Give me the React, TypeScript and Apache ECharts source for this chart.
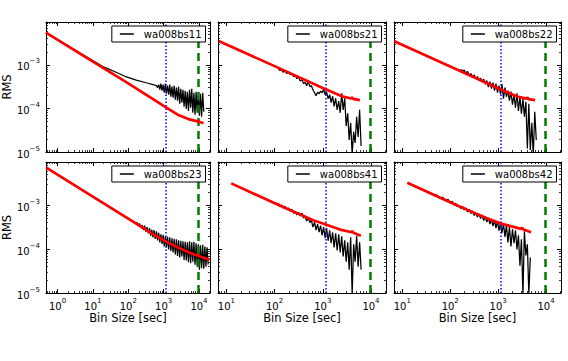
import React, { useEffect, useRef } from 'react';
import * as echarts from 'echarts';

const FONT = 'DejaVu Sans';

const panelLabels = ['wa008bs11', 'wa008bs21', 'wa008bs22', 'wa008bs23', 'wa008bs41', 'wa008bs42'];

const blueLineBin = 1150;
const greenLineBin = 9600;

const binRangeFull: [number, number] = [0.47, 20500];
const binRangeShort: [number, number] = [6.7, 20500];
const rmsRange: [number, number] = [1e-5, 0.0097];

const xAxisTitle = 'Bin Size [sec]';
const yAxisTitle = 'RMS';

// ---- wa008bs11 ----
const rmsBs11: [number, number][] = [
  [0.47, 5.5e-3], [2.6, 2.4e-3], [18, 9.4e-4], [47, 6.7e-4], [89, 5.3e-4], [168, 4.5e-4], [320, 3.9e-4], [500, 3.55e-4],
  [625, 3.34e-4], [675, 3.01e-4], [725, 3.53e-4], [780, 2.7e-4], [840, 3.72e-4], [900, 2.56e-4], [970, 3.53e-4], [1040, 2.3e-4],
  [1120, 3.72e-4], [1200, 2.18e-4], [1290, 3.34e-4], [1390, 2.07e-4], [1490, 3.53e-4], [1600, 1.86e-4], [1720, 3.17e-4], [1850, 1.77e-4],
  [1990, 3.34e-4], [2140, 1.59e-4], [2300, 3.01e-4], [2470, 1.51e-4], [2650, 3.17e-4], [2850, 1.29e-4], [3060, 2.85e-4], [3290, 1.36e-4],
  [3530, 2.7e-4], [3790, 1.1e-4], [4070, 2.56e-4], [4370, 9.8e-5], [4690, 2.43e-4], [5040, 8.8e-5], [5410, 2.7e-4], [5810, 1.04e-4],
  [6240, 2.85e-4], [6700, 7.95e-5], [7200, 2.3e-4], [7730, 7.15e-5], [8300, 2.43e-4], [8910, 7.95e-5], [9570, 2.07e-4], [10280, 6.8e-5],
  [11040, 2.18e-4], [11860, 6.45e-5], [12740, 2.3e-4], [13680, 8.4e-5],
];
const modelBs11: [number, number][] = [
  [0.47, 5.5e-3], [10, 1.19e-3], [100, 3.78e-4], [1000, 1.15e-4], [2500, 7.2e-5], [5000, 5.7e-5], [8000, 5.2e-5],
  [9300, 4.95e-5], [9700, 5.3e-5], [10100, 4.9e-5], [13500, 4.65e-5],
];

// ---- wa008bs21 ----
const rmsBs21: [number, number][] = [
  [120, 8.0e-4], [130, 7.43e-4], [140, 7.83e-4], [150, 6.85e-4], [165, 7.23e-4], [180, 6.32e-4], [195, 6.85e-4], [210, 6.0e-4],
  [230, 6.32e-4], [250, 5.4e-4], [270, 5.69e-4], [290, 4.85e-4], [315, 5.26e-4], [340, 4.25e-4], [370, 4.6e-4], [400, 3.72e-4],
  [430, 4.03e-4], [465, 3.34e-4], [500, 4.25e-4], [540, 3.17e-4], [580, 3.34e-4], [625, 2.7e-4], [675, 2.3e-4], [725, 1.96e-4],
  [780, 2.37e-4], [840, 2.18e-4], [900, 2.5e-4], [970, 2.3e-4], [1040, 2.77e-4], [1120, 2.07e-4], [1200, 2.37e-4], [1290, 1.68e-4],
  [1390, 2.07e-4], [1490, 1.36e-4], [1600, 1.91e-4], [1720, 1.12e-4], [1850, 1.72e-4], [1990, 9.3e-5], [2140, 1.47e-4], [2300, 7.95e-5],
  [2470, 2.24e-4], [2650, 9.3e-5], [2850, 1.72e-4], [3060, 3.98e-5], [3290, 7.75e-5], [3530, 1.89e-5], [3790, 4.68e-5], [4070, 9e-6],
  [4370, 2.9e-5], [4690, 1.61e-5], [5040, 6.45e-5], [5410, 2.22e-5], [5810, 9.3e-5], [6240, 1.38e-5],
];
const modelBs21: [number, number][] = [
  [6.9, 3.55e-3], [100, 9.4e-4], [1000, 2.95e-4], [2500, 1.9e-4], [3900, 1.7e-4], [4050, 1.82e-4], [4250, 1.66e-4], [5900, 1.55e-4],
];

// ---- wa008bs22 ----
const rmsBs22: [number, number][] = [
  [165, 8.03e-4], [180, 7.23e-4], [195, 7.62e-4], [210, 6.5e-4], [230, 7.05e-4], [250, 5.85e-4], [270, 6.32e-4], [290, 5.4e-4],
  [315, 5.85e-4], [340, 4.85e-4], [370, 5.4e-4], [400, 4.37e-4], [430, 4.98e-4], [465, 4.03e-4], [500, 4.72e-4], [540, 3.62e-4],
  [580, 4.37e-4], [625, 3.09e-4], [675, 4.14e-4], [725, 2.85e-4], [780, 3.93e-4], [840, 2.56e-4], [900, 3.72e-4], [970, 2.3e-4],
  [1040, 3.34e-4], [1120, 2.13e-4], [1200, 3.62e-4], [1290, 1.68e-4], [1390, 3.01e-4], [1490, 1.86e-4], [1600, 2.56e-4], [1720, 1.51e-4],
  [1850, 2.43e-4], [1990, 1.22e-4], [2140, 2.07e-4], [2300, 1.04e-4], [2470, 2.24e-4], [2650, 8.8e-5], [2850, 1.86e-4], [3060, 7.55e-5],
  [3290, 1.68e-4], [3530, 6.45e-5], [3790, 1.43e-4], [4070, 1.2e-5], [4370, 1.29e-4], [4690, 1.11e-5], [5040, 4.68e-5], [5410, 8.5e-6],
  [5810, 8.4e-5], [6240, 1.89e-5],
];
const modelBs22: [number, number][] = [
  [6.8, 3.5e-3], [100, 9.2e-4], [1000, 2.9e-4], [2500, 1.88e-4], [3900, 1.68e-4], [4100, 1.8e-4], [4300, 1.64e-4], [5900, 1.56e-4],
];

// ---- wa008bs23 ----
const rmsBs23: [number, number][] = [
  [0.48, 7.2e-3], [6.2, 2.0e-3], [64, 6.1e-4], [120, 4.5e-4],
  [150, 4.14e-4], [165, 3.82e-4], [180, 4.03e-4], [195, 3.34e-4], [210, 3.82e-4], [230, 3.01e-4], [250, 3.53e-4], [270, 2.7e-4],
  [290, 3.43e-4], [315, 2.5e-4], [340, 3.17e-4], [370, 2.3e-4], [400, 3.01e-4], [430, 2.01e-4], [465, 2.77e-4], [500, 1.86e-4],
  [540, 2.7e-4], [580, 1.72e-4], [625, 2.56e-4], [675, 1.59e-4], [725, 2.37e-4], [780, 1.43e-4], [840, 2.18e-4], [900, 1.32e-4],
  [970, 2.13e-4], [1040, 1.15e-4], [1120, 1.96e-4], [1200, 1.1e-4], [1290, 1.91e-4], [1390, 9.8e-5], [1490, 1.86e-4], [1600, 9.05e-5],
  [1720, 1.77e-4], [1850, 8.4e-5], [1990, 1.72e-4], [2140, 7.55e-5], [2300, 1.68e-4], [2470, 7.0e-5], [2650, 1.59e-4], [2850, 6.45e-5],
  [3060, 1.55e-4], [3290, 6.8e-5], [3530, 1.51e-4], [3790, 5.65e-5], [4070, 1.47e-4], [4370, 5.5e-5], [4690, 1.43e-4], [5040, 5.05e-5],
  [5410, 1.51e-4], [5810, 4.8e-5], [6240, 1.43e-4], [6700, 5.2e-5], [7200, 1.47e-4], [7730, 4.44e-5], [8300, 1.36e-4], [8910, 3.98e-5],
  [9570, 1.29e-4], [10280, 3.4e-5], [11040, 1.22e-4], [11860, 3.68e-5], [12740, 1.25e-4], [13680, 3.58e-5], [14690, 1.15e-4], [15780, 3.98e-5],
  [16950, 1.1e-4], [18200, 4.44e-5],
];
const modelBs23: [number, number][] = [
  [0.48, 7.2e-3], [6.2, 2.0e-3], [64, 6.2e-4], [540, 2.12e-4], [1150, 1.5e-4], [2700, 1.06e-4], [5700, 8.2e-5], [8700, 7.2e-5],
  [9200, 7.7e-5], [9700, 7.0e-5], [20000, 5.7e-5],
];

// ---- wa008bs41 ----
const rmsBs41: [number, number][] = [
  [100, 1.17e-3], [110, 1.05e-3], [120, 1.11e-3], [130, 9.45e-4], [140, 1.02e-3], [150, 8.7e-4], [165, 9.45e-4], [180, 8.03e-4],
  [195, 8.7e-4], [210, 7.43e-4], [230, 8.03e-4], [250, 6.5e-4], [270, 7.23e-4], [290, 6.0e-4], [315, 6.85e-4], [340, 5.69e-4],
  [370, 6.67e-4], [400, 5.12e-4], [430, 5.4e-4], [465, 4.37e-4], [500, 5.12e-4], [540, 4.03e-4], [580, 4.6e-4], [625, 3.17e-4],
  [675, 4.14e-4], [725, 2.7e-4], [780, 3.72e-4], [840, 2.43e-4], [900, 3.43e-4], [970, 2.07e-4], [1040, 3.17e-4], [1120, 1.77e-4],
  [1200, 3.01e-4], [1290, 1.55e-4], [1390, 2.7e-4], [1490, 1.36e-4], [1600, 2.43e-4], [1720, 1.1e-4], [1850, 2.3e-4], [1990, 9.3e-5],
  [2140, 2.18e-4], [2300, 8.4e-5], [2470, 1.96e-4], [2650, 6.8e-5], [2850, 1.59e-4], [3060, 5.2e-5], [3290, 1.43e-4], [3530, 3.4e-5],
  [3790, 1.86e-4], [4070, 9.5e-6], [4370, 1.29e-4], [4690, 5.2e-5], [5040, 2.01e-4], [5410, 3.98e-5], [5810, 1.43e-4], [6240, 3.4e-5],
];
const modelBs41: [number, number][] = [
  [12.6, 3.16e-3], [128, 9.9e-4], [634, 4.55e-4], [1150, 3.63e-4], [2280, 2.79e-4], [4000, 2.42e-4], [4150, 2.6e-4], [4300, 2.36e-4],
  [6150, 2.03e-4],
];

// ---- wa008bs42 ----
const rmsBs42: [number, number][] = [
  [50, 1.79e-3], [60, 1.48e-3], [70, 1.52e-3], [80, 1.3e-3], [90, 1.37e-3], [100, 1.13e-3], [110, 1.23e-3], [120, 1.02e-3],
  [130, 1.11e-3], [140, 9.2e-4], [150, 9.95e-4], [165, 8.47e-4], [180, 9.45e-4], [195, 7.83e-4], [210, 8.7e-4], [230, 7.05e-4],
  [250, 8.03e-4], [270, 6.5e-4], [290, 7.43e-4], [315, 5.85e-4], [340, 6.67e-4], [370, 5.4e-4], [400, 6.32e-4], [430, 4.98e-4],
  [465, 6.0e-4], [500, 4.48e-4], [540, 5.55e-4], [580, 4.14e-4], [625, 5.12e-4], [675, 3.72e-4], [725, 4.85e-4], [780, 3.34e-4],
  [840, 4.6e-4], [900, 3.01e-4], [970, 4.37e-4], [1040, 2.63e-4], [1120, 4.03e-4], [1200, 2.3e-4], [1290, 3.82e-4], [1390, 1.91e-4],
  [1490, 3.53e-4], [1600, 1.43e-4], [1720, 3.17e-4], [1850, 1.15e-4], [1990, 2.85e-4], [2140, 1.36e-4], [2300, 2.7e-4], [2470, 9.8e-5],
  [2650, 2.07e-4], [2850, 4.2e-5], [3060, 1.68e-4], [3290, 9e-6], [3530, 2.56e-4], [3790, 7.15e-5], [4070, 1.29e-4], [4370, 9.5e-6],
  [4690, 6.45e-5],
];
const modelBs42: [number, number][] = [
  [12.7, 3.28e-3], [126, 1.04e-3], [624, 4.9e-4], [1150, 3.83e-4], [2080, 3.21e-4], [3000, 2.9e-4], [3150, 3.1e-4], [3300, 2.85e-4],
  [4860, 2.42e-4],
];

const panelRms = [rmsBs11, rmsBs21, rmsBs22, rmsBs23, rmsBs41, rmsBs42];
const panelModel = [modelBs11, modelBs21, modelBs22, modelBs23, modelBs41, modelBs42];
const panelBinRange = [binRangeFull, binRangeShort, binRangeShort, binRangeFull, binRangeShort, binRangeShort];

function powLabel(v: number): string {
  const l = Math.log10(v);
  const e = Math.round(l);
  if (Math.abs(l - e) > 1e-6) return '';
  const s = e < 0 ? '\u2212' + Math.abs(e) : String(e);
  return `{b|10}{s|${s}}`;
}

const labelRich = {
  b: { fontSize: 10, fontFamily: FONT, color: '#000', lineHeight: 14, verticalAlign: 'bottom' },
  s: { fontSize: 7, fontFamily: FONT, color: '#000', lineHeight: 5, verticalAlign: 'top' },
};

function buildOption() {
  const W = 568;
  const layout = [
    { left: 43, top: 22, width: 167, height: 130 },
    { left: 218, top: 22, width: 168, height: 130 },
    { left: 394, top: 22, width: 167, height: 130 },
    { left: 43, top: 162, width: 167, height: 131 },
    { left: 218, top: 162, width: 168, height: 131 },
    { left: 394, top: 162, width: 167, height: 131 },
  ];

  const grid: any[] = [];
  const xAxis: any[] = [];
  const yAxis: any[] = [];
  const series: any[] = [];
  const legend: any[] = [];

  const axisBase = (min: number, max: number, gridIndex: number, position: string, showLabels: boolean, margin: number) => ({
    type: 'log',
    logBase: 10,
    gridIndex,
    position,
    min,
    max,
    axisLine: { show: true, onZero: false, lineStyle: { color: '#000', width: 1 } },
    axisTick: { show: true, inside: true, length: 4, lineStyle: { color: '#000', width: 1 } },
    minorTick: { show: true, splitNumber: 9, length: 2, lineStyle: { color: '#000', width: 0.8 } },
    splitLine: { show: false },
    minorSplitLine: { show: false },
    axisLabel: { show: showLabels, formatter: powLabel, rich: labelRich, margin },
  });

  layout.forEach((g, i) => {
    const col = i % 3;
    const row = Math.floor(i / 3);
    grid.push({ ...g, show: false });
    const [xmin, xmax] = panelBinRange[i];
    const bottomX: any = axisBase(xmin, xmax, i, 'bottom', row === 1, 4);
    if (row === 1) {
      bottomX.name = xAxisTitle;
      bottomX.nameLocation = 'middle';
      bottomX.nameGap = 19;
      bottomX.nameTextStyle = { fontFamily: FONT, fontSize: 11.5, color: '#000' };
    }
    xAxis.push(bottomX);
    xAxis.push(axisBase(xmin, xmax, i, 'top', false, 4));
    const leftY: any = axisBase(rmsRange[0], rmsRange[1], i, 'left', col === 0, 6);
    if (col === 0) {
      leftY.name = yAxisTitle;
      leftY.nameLocation = 'middle';
      leftY.nameGap = 29;
      leftY.nameTextStyle = { fontFamily: FONT, fontSize: 11.5, color: '#000' };
    }
    yAxis.push(leftY);
    yAxis.push(axisBase(rmsRange[0], rmsRange[1], i, 'right', false, 6));

    series.push({
      type: 'line',
      name: panelLabels[i],
      xAxisIndex: 2 * i,
      yAxisIndex: 2 * i,
      data: panelRms[i],
      symbol: 'none',
      showSymbol: false,
      lineStyle: { color: '#000', width: 1.25 },
      itemStyle: { color: '#000' },
      z: 2,
      clip: true,
      emphasis: { disabled: true },
      markLine: {
        silent: true,
        symbol: ['none', 'none'],
        z: 3,
        label: { show: false },
        emphasis: { disabled: true },
        data: [
          { xAxis: blueLineBin, lineStyle: { color: '#0000ff', width: 1.5, type: [1.5, 2] } },
          { xAxis: greenLineBin, lineStyle: { color: '#008000', width: 2.5, type: [8, 5] } },
        ],
      },
    });
    series.push({
      type: 'line',
      name: panelLabels[i] + ' model',
      xAxisIndex: 2 * i,
      yAxisIndex: 2 * i,
      data: panelModel[i],
      symbol: 'none',
      showSymbol: false,
      lineStyle: { color: '#ff0000', width: 2.7 },
      itemStyle: { color: '#ff0000' },
      z: 4,
      clip: true,
      emphasis: { disabled: true },
    });

    const boxRight = g.left + g.width - 4.5;
    legend.push({
      data: [{ name: panelLabels[i], icon: 'rect', itemStyle: { color: '#000' } }],
      right: W - boxRight,
      top: g.top + 4,
      orient: 'horizontal',
      backgroundColor: '#fff',
      borderColor: '#000',
      borderWidth: 1,
      borderRadius: 0,
      padding: [2, 4, 2, 8],
      itemWidth: 14,
      itemHeight: 1.5,
      selectedMode: false,
      z: 10,
      textStyle: { fontFamily: FONT, fontSize: 10, color: '#000', lineHeight: 12, padding: [0, 0, 0, 5] },
    });
  });

  return {
    animation: false,
    backgroundColor: '#fff',
    textStyle: { fontFamily: FONT },
    grid,
    xAxis,
    yAxis,
    series,
    legend,
  };
}

export default function App() {
  const ref = useRef<HTMLDivElement>(null);
  useEffect(() => {
    if (!ref.current) return;
    const chart = echarts.init(ref.current, undefined, { renderer: 'svg' });
    chart.setOption(buildOption() as any);
    return () => chart.dispose();
  }, []);
  return <div ref={ref} style={{ position: 'absolute', left: 0, top: 0, width: 568, height: 361 }} />;
}
